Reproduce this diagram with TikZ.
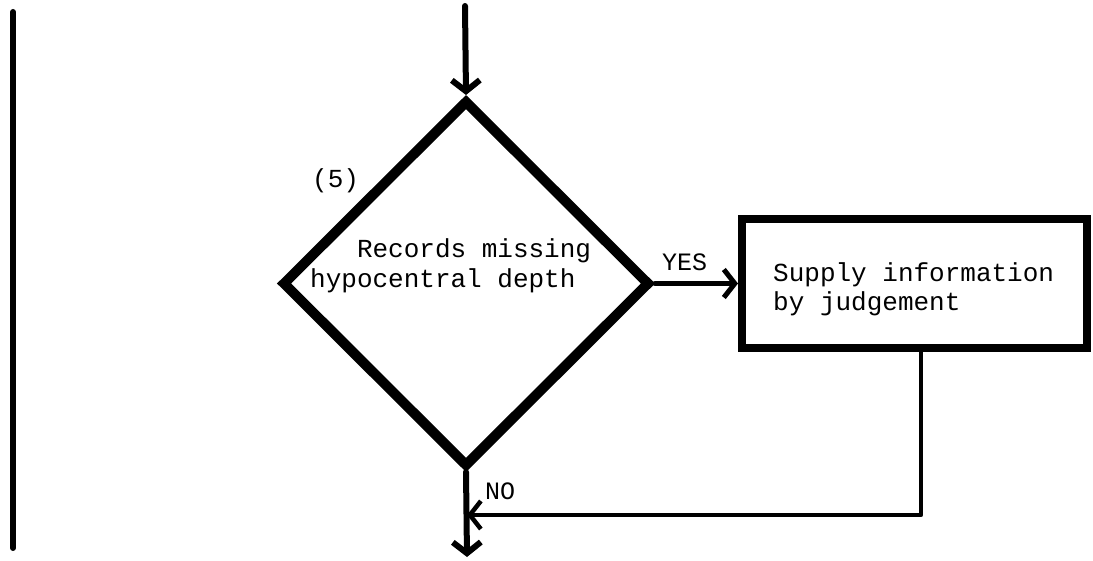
\documentclass[tikz,border=0pt]{standalone}
\usepackage{fontspec}
\setmonofont{Liberation Mono}
\usetikzlibrary{shapes.geometric,arrows.meta}
\begin{document}
\begin{tikzpicture}[x=1pt,y=-1pt,
  txt/.style={font=\ttfamily\fontsize{26}{30}\selectfont, inner sep=0pt, anchor=base west},
  lbl/.style={txt, font=\ttfamily\fontsize{25}{28}\selectfont},
  arr/.style={-{Straight Barb[length=11pt,width=28pt]}},
  conn/.style={line width=5pt, line cap=round, line join=round},
  thickbox/.style={draw, line width=9pt, line join=miter, inner sep=0pt}]
\useasboundingbox (0,0) rectangle (1093,561);
% left rule
\coordinate (l1) at (13,12);
\coordinate (l2) at (13,548);
\draw[line width=6pt, line cap=round] (l1) -- (l2);
% decision
\node[thickbox, line width=10pt, diamond, minimum width=368pt, minimum height=367pt] (d) at (466,283.5) {};
\node[txt] (dt1) at (310,258) {\phantom{xxx}Records missing};
\node[txt] (dt2) at (310,288) {hypocentral depth};
\node[txt] (n5) at (312,188) {(5)};
% process box
\node[thickbox, line width=8pt, rectangle, minimum width=345pt, minimum height=129pt] (r) at (914.5,283.5) {};
\node[txt] (rt1) at (773,282) {Supply information};
\node[txt] (rt2) at (773,311) {by judgement};
% labels
\node[lbl] (yes) at (662,271) {YES};
\node[lbl] (no) at (485,499) {NO};
% connectors
\coordinate (top) at (465,6);
\coordinate (c1) at (921,515);
\coordinate (j) at (467,515);
\coordinate (bot) at (467,557);
\draw[conn, line width=6pt, arr] (top) -- (d.north);
\draw[conn, arr] (d.east) -- (r.west);
\draw[conn, line width=4.5pt, arr] (r.south -| c1) -- (c1) -- (j);
\draw[conn, line width=6pt, arr] (d.south) -- (bot);
\end{tikzpicture}
\end{document}
